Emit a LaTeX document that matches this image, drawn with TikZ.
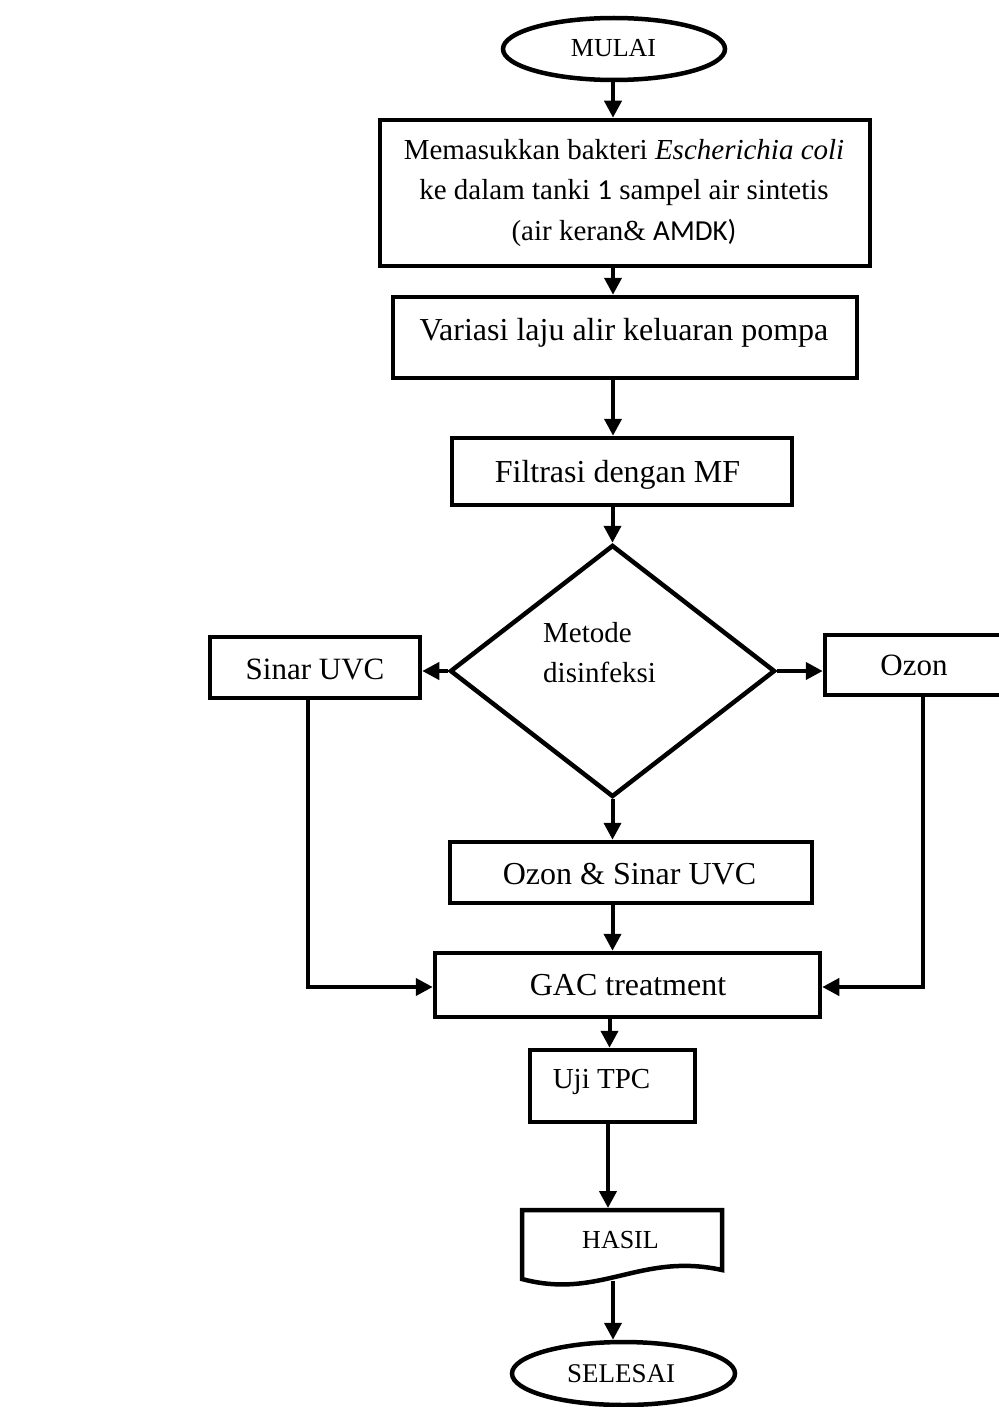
\documentclass[tikz,border=0pt]{standalone}
\usepackage{fontspec}
\setmainfont{Liberation Serif}
\newfontfamily\calibri{Carlito}
\usetikzlibrary{arrows.meta,shapes.geometric}

\begin{document}
\begin{tikzpicture}[x=1pt,y=-1pt,
  box/.style={draw, line width=4.5pt, inner sep=0pt, rectangle},
  term/.style={draw, line width=4.5pt, inner sep=0pt, ellipse},
  txt/.style={inner sep=0pt, anchor=base},
  arr/.style={line width=4pt, -{Triangle[length=17pt,width=17pt]}},
  fs/.style={font=\fontsize{#1}{40}\selectfont}]
\useasboundingbox (0,0) rectangle (998,1407);

% main axis of the chart
\coordinate (ax) at (613,0);

% shapes
\node[term, minimum width=222, minimum height=62] (start) at (614,49) {};
\node[box, minimum width=490, minimum height=146] (b1) at (625,193) {};
\node[box, minimum width=464, minimum height=81] (b2) at (625,337.5) {};
\node[box, minimum width=340, minimum height=67] (b3) at (622,471.5) {};
\node[draw, diamond, line width=4.5pt, inner sep=0pt,
      minimum width=325, minimum height=252] (dia) at (612.5,671) {};
\node[box, minimum width=210, minimum height=61] (uvc) at (315,667.5) {};
\node[box, minimum width=196, minimum height=60] (ozon) at (923,665) {};
\node[box, minimum width=362, minimum height=61] (ozuv) at (631,872.5) {};
\node[box, minimum width=385, minimum height=64] (gac) at (627.5,985) {};
\node[box, minimum width=165, minimum height=72] (tpc) at (612.5,1086) {};
\draw[line width=4.5pt, line join=miter] (522,1210) -- (722,1210) -- (722,1270)
  .. controls (640,1252) and (600,1300) .. (522,1279) -- cycle;
\coordinate (hasilTop) at (608,1208);
\coordinate (hasilBot) at (613,1281);
\node[term, minimum width=223, minimum height=63] (end) at (623.5,1373.5) {};

% texts
\node[txt, fs=26] (t0) at (613.5,57) {MULAI};
\node[txt, fs=29] (t1a) at (624,160) {Memasukkan bakteri \textit{Escherichia coli}};
\node[txt, fs=29] (t1b) at (624,200) {ke dalam tanki {\calibri 1} sampel air sintetis};
\node[txt, fs=29] (t1c) at (624,240) {(air keran\& {\calibri AMDK)}};
\node[txt, fs=32] (t2) at (624,340) {Variasi laju alir keluaran pompa};
\node[txt, fs=32] (t3) at (617.5,482) {Filtrasi dengan MF};
\node[txt, fs=29, anchor=base west] (td1) at (543,642) {Metode};
\node[txt, fs=29, anchor=base west] (td2) at (543,682) {disinfeksi};
\node[txt, fs=31] (tu) at (315,679) {Sinar UVC};
\node[txt, fs=31] (to) at (914,675) {Ozon};
\node[txt, fs=32] (tou) at (629.5,884) {Ozon \& Sinar UVC};
\node[txt, fs=32] (tg) at (628,995) {GAC treatment};
\node[txt, fs=29] (tt) at (601.5,1088) {Uji TPC};
\node[txt, fs=26] (th) at (620.5,1248) {HASIL};
\node[txt, fs=27] (te) at (621,1382) {SELESAI};

% connectors
\draw[arr] (ax |- start.south) -- (ax |- b1.north);
\draw[arr] (ax |- b1.south) -- (ax |- b2.north);
\draw[arr] (ax |- b2.south) -- (ax |- b3.north);
\draw[arr] (dia.north |- b3.south) -- (dia.north);
\draw[arr] (dia.west) -- (dia.west -| uvc.east);
\draw[arr] (dia.east) -- (dia.east -| ozon.west);
\draw[arr] (dia.south) -- (dia.south |- ozuv.north);
\draw[arr] (dia.south |- ozuv.south) -- (dia.south |- gac.north);
\draw[arr] ([xshift=-7pt]uvc.south) |- ([yshift=-2pt]gac.west);
\draw[arr] (ozon.south) |- ([yshift=-2pt]gac.east);
\draw[arr] ([xshift=-3pt]tpc.north |- gac.south) -- ([xshift=-3pt]tpc.north);
\draw[arr] (hasilTop |- tpc.south) -- (hasilTop);
\draw[arr] (hasilBot) -- (hasilBot |- end.north);
\end{tikzpicture}
\end{document}
